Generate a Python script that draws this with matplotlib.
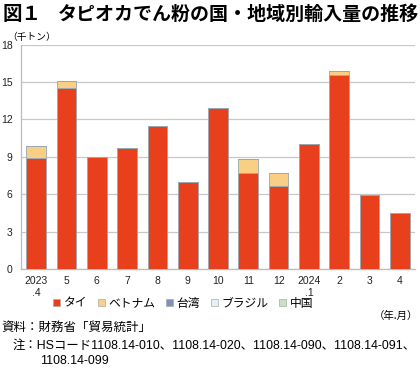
import matplotlib
matplotlib.use("Agg")
import matplotlib.pyplot as plt
from matplotlib.patches import Patch
import numpy as np

plt.rcParams['font.family'] = ['Noto Sans CJK JP', 'DejaVu Sans']

months = ["2023\n.4", "5", "6", "7", "8", "9", "10", "11", "12", "2024\n.1", "2", "3", "4"]
thai = [8.9, 14.5, 9.0, 9.7, 11.5, 7.0, 12.9, 7.7, 6.7, 10.0, 15.6, 5.9, 4.5]
vietnam = [1.0, 0.6, 0.0, 0.0, 0.0, 0.0, 0.0, 1.1, 1.0, 0.0, 0.3, 0.0, 0.0]
taiwan = [0.0] * 13
brazil = [0.0] * 13
china = [0.0] * 13
series_names = ["タイ", "ベトナム", "台湾", "ブラジル", "中国"]
series_colors = ["#E8401C", "#F9CF86", "#7F8FC0", "#E4F2F8", "#C9E2C0"]
yticks = [0, 3, 6, 9, 12, 15, 18]

fig = plt.figure(figsize=(4.2, 3.75), dpi=100)
ax = fig.add_axes([21/420, 1-269/375, 394/420, (269-44.7)/375])

x = np.arange(len(months))
bottom = np.zeros(len(months))
for vals, col in zip([thai, vietnam, taiwan, brazil, china], series_colors):
    v = np.array(vals)
    ax.bar(x, v, bottom=bottom, width=0.65, color=col, edgecolor="#9aa8b0", linewidth=0.6, zorder=3)
    bottom += v

latin = ['Liberation Sans', 'Noto Sans CJK JP']

ax.set_xlim(-0.5, len(months) - 0.5)
ax.set_ylim(0, 18)
ax.set_yticks(yticks)
ax.set_xticks(x)
ax.set_xticklabels(months, linespacing=1.3)
ax.tick_params(axis='both', length=0, labelsize=7.5, colors="#222222")
ax.tick_params(axis='y', pad=6)
ax.tick_params(axis='x', pad=5)
for lab in ax.get_yticklabels():
    lab.set_family(latin)
for lab in ax.get_xticklabels():
    lab.set_family(latin)
ax.grid(axis='y', color="#c8c8c8", linewidth=0.9, zorder=0)
for s in ['top', 'right']:
    ax.spines[s].set_visible(False)
ax.spines['left'].set_color("#bbbbbb")
ax.spines['bottom'].set_color("#bbbbbb")
ax.spines['left'].set_linewidth(0.9)
ax.spines['bottom'].set_linewidth(0.9)

fig.text(7/420, 1-37/375, "（千トン）", fontsize=7, va='center', ha='left')

fig.text(3/420, 1-14/375, "図１", fontsize=14, fontweight='bold', va='center', ha='left')
fig.text(58/420, 1-14/375, "タピオカでん粉の国・地域別輸入量の推移", fontsize=13.7, fontweight='bold', va='center', ha='left')

handles = [Patch(facecolor=c, edgecolor="#aaaaaa", linewidth=0.5) for c in series_colors]
leg = fig.legend(handles, series_names, loc='center', bbox_to_anchor=(183/420, 1-303/375), ncol=5,
                 frameon=False, fontsize=8.5, handlelength=0.6, handleheight=0.6, handletextpad=0.3,
                 columnspacing=0.9)

fig.text(418/420, 1-316/375, "（年.月）", fontsize=7.5, va='center', ha='right')

fig.text(1/420, 1-328/375, "資料：財務省「貿易統計」", fontsize=9.0, va='center', ha='left', family=latin)
fig.text(13/420, 1-346/375, "注：HSコード1108.14-010、1108.14-020、1108.14-090、1108.14-091、", fontsize=8.9, va='center', ha='left', family=latin)
fig.text(40/420, 1-361/375, "1108.14-099", fontsize=8.9, va='center', ha='left', family=latin)

fig.savefig("out.png", dpi=100)
